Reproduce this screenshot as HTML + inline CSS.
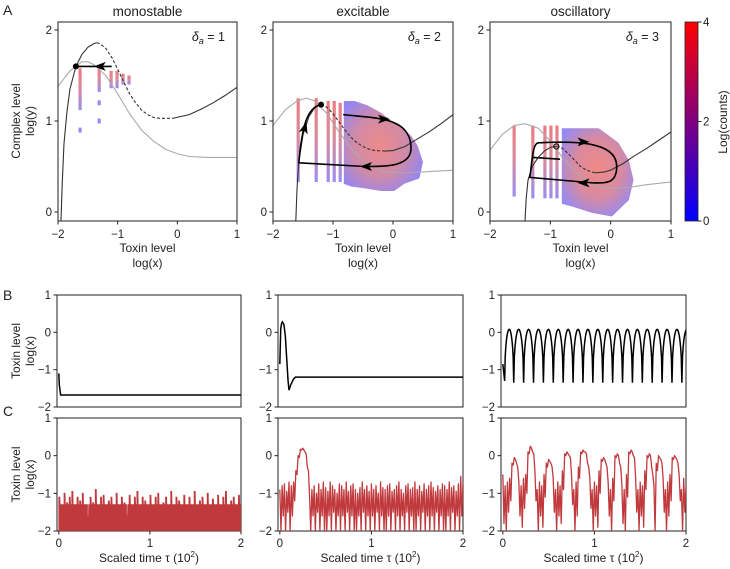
<!DOCTYPE html>
<html><head><meta charset="utf-8">
<style>
html,body{margin:0;padding:0;background:#fff;}
svg{display:block;font-family:"Liberation Sans",sans-serif;}
</style></head>
<body>
<svg id="fig" width="730" height="569" viewBox="0 0 730 569" xmlns="http://www.w3.org/2000/svg">
<defs>
<linearGradient id="cbar" x1="0" y1="1" x2="0" y2="0">
<stop offset="0" stop-color="#0000ff"/><stop offset="0.5" stop-color="#800080"/><stop offset="1" stop-color="#ff0000"/>
</linearGradient>
<linearGradient id="barg" x1="0" y1="0" x2="0" y2="1">
<stop offset="0" stop-color="#ee7a82"/><stop offset="0.45" stop-color="#d98a9a"/><stop offset="1" stop-color="#9b8cf0"/>
</linearGradient>
<radialGradient id="blob2" cx="0.45" cy="0.5" r="0.6">
<stop offset="0" stop-color="#ee8a8a"/><stop offset="0.55" stop-color="#d08aa8"/><stop offset="1" stop-color="#9486f2"/>
</radialGradient>
<radialGradient id="blob3" cx="0.5" cy="0.45" r="0.6">
<stop offset="0" stop-color="#f08a86"/><stop offset="0.55" stop-color="#d88aa0"/><stop offset="1" stop-color="#968af2"/>
</radialGradient>
<marker id="arr" viewBox="0 0 10 10" refX="5" refY="5" markerWidth="9" markerHeight="9" orient="auto">
<path d="M0,1 L10,5 L0,9 L3,5 Z" fill="#000"/>
</marker>
</defs>
</svg>
<script>
// ---------- data ----------
const aTitles = ["monostable","excitable","oscillatory"];
const aDelta = ["1","2","3"];
const aXTicks = [-2,-1,0,1];
const aYTicks = [0,1,2];
// nullclines (black)
const n1x = [-1.95,-1.93,-1.9,-1.85,-1.8,-1.7,-1.6,-1.5,-1.4,-1.35,-1.3,-1.2,-1.1,-1,-0.9,-0.8,-0.7,-0.6,-0.5,-0.4,-0.3,-0.2,-0.07,0.2,0.4,0.6,0.8,1];
const n1y = [-0.1,0.3,0.75,1.1,1.35,1.6,1.73,1.81,1.85,1.86,1.85,1.8,1.7,1.57,1.43,1.3,1.2,1.12,1.07,1.04,1.03,1.03,1.03,1.07,1.13,1.2,1.28,1.37];
const n2x = [-1.62,-1.6,-1.57,-1.5,-1.4,-1.3,-1.2,-1.1,-1,-0.9,-0.8,-0.7,-0.6,-0.5,-0.4,-0.3,-0.13,0,0.2,0.4,0.6,0.8,1];
const n2y = [-0.1,0.25,0.55,0.85,1.05,1.15,1.18,1.15,1.08,0.99,0.9,0.82,0.76,0.72,0.69,0.675,0.67,0.675,0.72,0.8,0.88,0.97,1.07];
const n3x = [-1.42,-1.4,-1.37,-1.3,-1.2,-1.1,-1,-0.9,-0.8,-0.7,-0.6,-0.5,-0.4,-0.26,-0.1,0,0.2,0.4,0.6,0.8,1];
const n3y = [-0.1,0.15,0.35,0.5,0.6,0.67,0.71,0.72,0.7,0.64,0.57,0.5,0.46,0.43,0.44,0.46,0.53,0.62,0.7,0.79,0.88];
const dashFrom = [-1.35,-1.2,-0.9];
const dashTo = [-0.07,-0.13,-0.26];
// gray nullclines
const g1x = [-2,-1.8,-1.6,-1.5,-1.4,-1.2,-1,-0.8,-0.6,-0.4,-0.2,0,0.2,0.5,1];
const g1y = [1.38,1.55,1.65,1.65,1.62,1.5,1.3,1.08,0.9,0.78,0.69,0.64,0.61,0.6,0.6];
const g2x = [-2,-1.8,-1.6,-1.45,-1.3,-1.1,-0.9,-0.7,-0.5,-0.3,-0.1,0.2,0.5,1];
const g2y = [0.95,1.12,1.22,1.25,1.22,1.08,0.88,0.7,0.56,0.48,0.44,0.43,0.44,0.46];
const g3x = [-2,-1.8,-1.6,-1.42,-1.2,-1,-0.8,-0.6,-0.4,-0.2,0,0.3,0.6,1];
const g3y = [0.68,0.85,0.95,0.97,0.92,0.78,0.6,0.45,0.34,0.28,0.26,0.27,0.3,0.33];
// histogram bars [x, top, bottom]
const bars1x = [-1.63,-1.31,-1.11,-1.01,-0.91,-0.81];
const bars1top = [1.58,1.58,1.55,1.55,1.52,1.5];
const bars1bot = [1.12,1.32,1.36,1.36,1.4,1.4];
const dots1x = [-1.31,-1.31,-1.63];
const dots1y = [1.2,1.0,0.9];
const bars2x = [-1.58,-1.28,-1.08,-0.98,-0.88];
const bars2top = [1.25,1.25,1.22,1.22,1.2];
const bars2bot = [0.33,0.33,0.33,0.33,0.33];
const bars3x = [-1.6,-1.29,-1.09,-0.99,-0.89];
const bars3top = [0.95,0.95,0.95,0.95,0.95];
const bars3bot = [0.17,0.15,0.15,0.15,0.15];
// heat blobs (outline)
const blob2x = [-0.82,-0.64,-0.42,-0.2,0.02,0.3,0.41,0.5,0.44,0.19,0.02,-0.2,-0.47,-0.7,-0.82];
const blob2y = [1.22,1.22,1.17,1.09,0.98,0.84,0.73,0.55,0.37,0.31,0.23,0.23,0.26,0.28,0.31];
const blob3x = [-0.81,-0.2,-0.09,0.13,0.3,0.38,0.3,0.02,-0.31,-0.64,-0.81];
const blob3y = [0.92,0.92,0.87,0.76,0.57,0.35,0.13,-0.05,-0.01,0.06,0.09];
// fixed points
const fpx = [-1.7,-1.2,-0.9];
const fpy = [1.6,1.18,0.72];
// B panels
const bXTicks = [0,1,2];
const bYTicks = [1,0,-1,-2];
const b1t = [0,0.005,0.02,0.04,2];
const b1y = [-1.1,-1.4,-1.68,-1.68,-1.68];
const b2t = [0,0.01,0.02,0.03,0.045,0.06,0.075,0.09,0.1,0.12,0.15,0.17,0.2,2];
const b2y = [-0.85,0.1,0.25,0.28,0.2,-0.1,-0.7,-1.3,-1.55,-1.4,-1.25,-1.2,-1.2,-1.2];
const b3PeakT = [0.065,0.173,0.281,0.389,0.497,0.605,0.713,0.821,0.929,1.037,1.145,1.253,1.361,1.469,1.577,1.685,1.793,1.901];
const b3PeakY = [0.08,0.08,0.08,0.08,0.08,0.08,0.08,0.08,0.08,0.08,0.08,0.08,0.08,0.08,0.08,0.08,0.08,0.08];
const b3TroughT = [0.02,0.119,0.227,0.335,0.443,0.551,0.659,0.767,0.875,0.983,1.091,1.199,1.307,1.415,1.523,1.631,1.739,1.847,1.955];
const b3TroughY = [-1.3,-1.35,-1.35,-1.35,-1.35,-1.35,-1.35,-1.35,-1.35,-1.35,-1.35,-1.35,-1.35,-1.35,-1.35,-1.35,-1.35,-1.35,-1.35];
// C panels
const c1upper = [-1.1,-1.3,-1.0,-1.25,-1.1,-0.95,-1.3,-1.1,-1.2,-1.0,-1.3,-1.6,-1.1,-1.25,-0.9,-1.3,-1.1,-1.05,-1.3,-1.2,-1.1,-1.3,-1.0,-1.3,-1.1,-1.25,-1.6,-1.05,-1.3,-1.1,-0.95,-1.3,-1.1,-1.2,-1.3,-1.05,-1.3,-1.1,-1.0,-1.3,-1.25,-1.1,-1.3,-0.95,-1.3,-1.1,-1.2,-1.3,-1.05,-1.3,-1.1,-1.3,-0.95,-1.3,-1.2,-1.1,-1.3,-1.0,-1.3,-1.15,-1.3,-1.05,-1.3,-1.1,-0.95,-1.3,-1.2,-1.1,-1.3,-1.05];
const c2upper = [-0.9,-0.8,-0.75,-0.95,-0.7,-0.8,-0.7,-0.4,0.0,0.17,0.2,0.1,-0.3,-1.1,-0.9,-0.8,-1.0,-0.75,-0.9,-0.7,-0.85,-0.95,-0.7,-0.8,-0.9,-1.0,-0.75,-0.8,-0.9,-0.7,-0.95,-0.8,-0.75,-0.9,-1.0,-0.85,-0.7,-0.9,-0.8,-0.95,-0.75,-0.9,-0.8,-1.0,-0.7,-0.85,-0.9,-0.8,-0.75,-0.95,-0.9,-0.8,-0.7,-0.9,-1.0,-0.8,-0.75,-0.9,-0.85,-0.7,-0.9,-0.8,-0.95,-0.75,-0.9,-0.8,-0.7,-0.85,-0.95,-0.8,-0.9,-0.75,-0.8,-0.9,-0.7,-0.85,-0.8,-0.95,-0.75,-0.55,-0.7];
const c2lower = [-2,-1.6,-2,-1.5,-2,-1.6,-1.2,-0.5,-0.05,0.15,0.15,0.05,-0.4,-2,-1.6,-2,-1.5,-2,-1.6,-2,-2,-1.6,-2,-1.5,-2,-1.6,-2,-1.6,-2,-1.5,-2,-1.6,-2,-2,-1.6,-2,-1.5,-2,-1.6,-2,-1.6,-2,-1.5,-2,-1.6,-2,-2,-1.6,-2,-1.5,-2,-1.6,-2,-1.6,-2,-1.5,-2,-1.6,-2,-2,-1.6,-2,-1.5,-2,-1.6,-2,-1.6,-2,-1.5,-2,-1.6,-2,-2,-1.6,-2,-1.5,-2,-1.6,-2,-1.6,-1.5];
const c3upper = [-0.5,-0.8,-0.7,-0.6,-0.2,-0.05,-0.2,-0.7,-0.8,-0.6,-0.5,0.1,0.25,0.1,-0.4,-0.9,-0.7,-0.8,-0.5,-0.2,-0.1,-0.2,-0.6,-0.9,-0.7,-0.8,-0.4,0.05,0.1,0.0,-0.5,-0.9,-0.7,-0.3,0.1,0.15,0.1,-0.2,-0.6,-0.9,-0.7,-0.8,-0.4,-0.1,-0.05,-0.2,-0.7,-0.9,-0.6,0.0,0.05,-0.2,-0.8,-0.9,-0.5,0.1,0.15,0.0,-0.6,-0.9,-0.7,-0.8,-0.4,0.0,0.05,-0.3,-0.8,-0.2,0.0,-0.1,-0.6,-0.9,-0.7,-0.5,-0.05,0.0,-0.1,-0.5,-0.9,-0.6,-0.8];
const c3lower = [-1.8,-2,-1.5,-1.2,-0.25,-0.1,-0.3,-1.6,-1.9,-1.4,-1.0,0.05,0.2,0.05,-1.2,-2,-1.6,-1.9,-1.1,-0.3,-0.15,-0.3,-1.5,-2,-1.6,-1.8,-0.9,0.0,0.05,-0.05,-1.3,-2,-1.6,-0.6,0.05,0.1,0.05,-0.3,-1.4,-2,-1.6,-1.9,-1.0,-0.15,-0.1,-0.3,-1.6,-2,-1.2,-0.05,0.0,-0.3,-1.8,-2,-1.1,0.05,0.1,-0.05,-1.5,-2,-1.6,-1.9,-0.9,-0.05,0.0,-0.5,-2,-0.4,-0.05,-0.2,-1.5,-2,-1.6,-1.2,-0.1,-0.05,-0.2,-1.2,-2,-1.5,-1.7];

// ---------- layout ----------
const NS = "http://www.w3.org/2000/svg";
const svg = document.getElementById("fig");
const aCols = [[58,237],[273,453],[490,671]];
const bCols = [[57,241],[278,463],[501,686]];
const aY = [22,221], aDom=[-0.099,2.088];
const bY = [295,407], cY = [418,531];
function mk(tag, attrs, parent){ const e=document.createElementNS(NS,tag); for(const k in attrs) e.setAttribute(k,attrs[k]); (parent||svg).appendChild(e); return e; }
function scale(d0,d1,r0,r1){ return v => r0+(v-d0)/(d1-d0)*(r1-r0); }
function txt(x,y,s,anchor,size,parent){ const t=mk("text",{x:x,y:y,"text-anchor":anchor||"middle","font-size":size||11,fill:"#222"},parent); t.textContent=s; return t; }
function fmt(v){ return v<0 ? "\u2212"+Math.abs(v) : String(v); }
function path(xs,ys,sx,sy){ return xs.map((v,i)=>(i?"L":"M")+sx(v).toFixed(2)+","+sy(ys[i]).toFixed(2)).join(" "); }

// panel labels
[["A",3,15],["B",3,300],["C",3,416]].forEach(p=>{ const t=txt(p[1],p[2],p[0],"start",14);   });

// ---------- A panels ----------
const nx=[n1x,n2x,n3x], ny=[n1y,n2y,n3y], gx=[g1x,g2x,g3x], gy=[g1y,g2y,g3y];
const barsX=[bars1x,bars2x,bars3x], barsT=[bars1top,bars2top,bars3top], barsB=[bars1bot,bars2bot,bars3bot];
const blobsX=[null,blob2x,blob3x], blobsY=[null,blob2y,blob3y];
for(let p=0;p<3;p++){
  const [x0,x1]=aCols[p];
  const sx=scale(-2,1,x0,x1), sy=scale(aDom[0],aDom[1],aY[1],aY[0]);
  const g=mk("g",{});
  
  
  const cid="clipA"+p;
  const cp=mk("clipPath",{id:cid},g); mk("rect",{x:x0,y:aY[0],width:x1-x0,height:aY[1]-aY[0]},cp);
  const inner=mk("g",{"clip-path":"url(#"+cid+")"},g);
  // blob
  if(blobsX[p]){
    const bl=mk("path",{d:path(blobsX[p],blobsY[p],sx,sy)+" Z",fill:"url(#blob"+(p+1)+")",stroke:"none"},inner);
    
    
  }
  // bars
  barsX[p].forEach((bx,i)=>{
    const r=mk("rect",{x:sx(bx)-1.6,y:sy(barsT[p][i]),width:3.2,height:sy(barsB[p][i])-sy(barsT[p][i]),fill:"url(#barg)"},inner);
    
    
  });
  if(p===0){
    dots1x.forEach((dx,i)=>{
      const r=mk("rect",{x:sx(dx)-1.6,y:sy(dots1y[i])-2.5,width:3.2,height:5,fill:"#9a8cef"},inner);
      
      
    });
  }
  // gray nullcline
  const gp=mk("path",{d:path(gx[p],gy[p],sx,sy),fill:"none",stroke:"#aaa","stroke-width":1.1},inner);
  
  
  // black nullcline split solid/dashed
  const xs=nx[p], ys=ny[p];
  const segA=[[],[]], segD=[[],[]], segC=[[],[]];
  xs.forEach((v,i)=>{
    if(v<=dashFrom[p]){segA[0].push(v);segA[1].push(ys[i]);}
    if(v>=dashFrom[p]&&v<=dashTo[p]){segD[0].push(v);segD[1].push(ys[i]);}
    if(v>=dashTo[p]){segC[0].push(v);segC[1].push(ys[i]);}
  });
  [[segA,""],[segD,"3,2"],[segC,""]].forEach(s=>{
    const e=mk("path",{d:path(s[0][0],s[0][1],sx,sy),fill:"none",stroke:"#333","stroke-width":1.1,"stroke-dasharray":s[1]||"none"},inner);
    
    
  });
  // trajectories
  let trj=[];
  if(p===0){
    trj.push("M"+sx(-1.1)+","+sy(1.6)+" L"+sx(-1.38)+","+sy(1.6)+" L"+sx(-1.7)+","+sy(1.6));
  } else if(p===1){
    trj.push("M"+sx(-1.57)+","+sy(0.54)+" C"+sx(-1.52)+","+sy(0.9)+" "+sx(-1.45)+","+sy(1.15)+" "+sx(-1.2)+","+sy(1.18));
    trj.push("M"+sx(-0.83)+","+sy(1.07)+" C"+sx(-0.3)+","+sy(1.03)+" "+sx(0.3)+","+sy(1.05)+" "+sx(0.3)+","+sy(0.7)+" C"+sx(0.3)+","+sy(0.5)+" "+sx(-0.1)+","+sy(0.5)+" "+sx(-0.47)+","+sy(0.5)+" L"+sx(-1.57)+","+sy(0.54));
  } else {
    trj.push("M"+sx(-1.2)+","+sy(0.76)+" C"+sx(-0.6)+","+sy(0.78)+" "+sx(0.1)+","+sy(0.78)+" "+sx(0.1)+","+sy(0.5)+" C"+sx(0.1)+","+sy(0.3)+" "+sx(-0.1)+","+sy(0.32)+" "+sx(-0.3)+","+sy(0.32)+" L"+sx(-1.34)+","+sy(0.38)+" C"+sx(-1.3)+","+sy(0.55)+" "+sx(-1.3)+","+sy(0.75)+" "+sx(-1.2)+","+sy(0.76));
    trj.push("M"+sx(-1.29)+","+sy(0.6)+" L"+sx(-0.84)+","+sy(0.58));
  }
  trj.forEach(d=>{
    const e=mk("path",{d:d,fill:"none",stroke:"#000","stroke-width":1.6},inner);
    
    
  });
  // arrowheads
  const arrows = p===0?[[-1.3,1.6,180]]:p===1?[[-1.47,0.93,-75],[-0.15,1.02,0],[-0.45,0.5,180]]:[[-0.45,0.77,0],[-0.45,0.32,180]];
  arrows.forEach(a=>{
    const e=mk("path",{d:"M6,0 L-6,-4.5 L-3,0 L-6,4.5 Z",fill:"#000",transform:"translate("+sx(a[0])+","+sy(a[1])+") rotate("+a[2]+")"},inner);
    
    
  });
  // fixed point
  const fp=mk("circle",{cx:sx(fpx[p]),cy:sy(fpy[p]),r:p===2?2.6:3,fill:p===2?"none":"#000",stroke:"#000","stroke-width":p===2?1:0},inner);
  
  
  // frame
  const fr=mk("rect",{x:x0,y:aY[0],width:x1-x0,height:aY[1]-aY[0],fill:"none",stroke:"#222","stroke-width":1},g);
  
  
  aXTicks.forEach(v=>{ mk("line",{x1:sx(v),x2:sx(v),y1:aY[1],y2:aY[1]+3.5,stroke:"#222"},g); const t=txt(sx(v),aY[1]+17,fmt(v),"middle",11.5,g);   });
  aYTicks.forEach(v=>{ mk("line",{x1:x0-3.5,x2:x0,y1:sy(v),y2:sy(v),stroke:"#222"},g); const t=txt(x0-6,sy(v)+4,fmt(v),"end",11.5,g);   });
  const t1=txt((x0+x1)/2,16,aTitles[p],"middle",13.5,g);  
  const xl=txt((x0+x1)/2,252,"Toxin level","middle",12,g);  
  txt((x0+x1)/2,267,"log(x)","middle",12,g);
  const dl=mk("text",{x:x1-12,y:41,"text-anchor":"end","font-size":12.5,fill:"#222"},g);
   
  dl.innerHTML='<tspan font-style="italic">δ</tspan><tspan font-style="italic" font-size="9" dy="3">a</tspan><tspan dy="-3"> = '+aDelta[p]+'</tspan>';
}
{ const t=mk("text",{x:0,y:0,"text-anchor":"middle","font-size":12,fill:"#222",transform:"translate(20,121) rotate(-90)"}); t.textContent="Complex level";  
  const t2=mk("text",{x:0,y:0,"text-anchor":"middle","font-size":12,fill:"#222",transform:"translate(34,121) rotate(-90)"}); t2.textContent="log(y)"; }
// colorbar
{ const cb=mk("rect",{x:685,y:22,width:13,height:199,fill:"url(#cbar)",stroke:"#222","stroke-width":0.8});
   
  const cbTicks=[0,2,4]; const cs=scale(0,4,221,22);
  cbTicks.forEach(v=>{ mk("line",{x1:698,x2:701.5,y1:cs(v),y2:cs(v),stroke:"#222"}); const t=txt(703,cs(v)+4,String(v),"start",11.5);   });
  const t=mk("text",{x:0,y:0,"text-anchor":"middle","font-size":12,fill:"#222",transform:"translate(727,122) rotate(-90)"}); t.textContent="Log(counts)";   }

// ---------- B & C ----------
function tsAxes(col,yr,row,showX){
  const [x0,x1]=bCols[col];
  const sx=scale(-0.02*(2/ (2)),2,x0,x1), sy=scale(-2,1,yr[1],yr[0]);
  const g=mk("g",{});
  
  
  const fr=mk("rect",{x:x0,y:yr[0],width:x1-x0,height:yr[1]-yr[0],fill:"none",stroke:"#222","stroke-width":1},g);
   
  bYTicks.forEach(v=>{ mk("line",{x1:x0-3.5,x2:x0,y1:sy(v),y2:sy(v),stroke:"#222"},g); const t=txt(x0-6,sy(v)+4,fmt(v),"end",11.5,g);   });
  if(showX){ bXTicks.forEach(v=>{ mk("line",{x1:sx(v),x2:sx(v),y1:yr[1],y2:yr[1]+3.5,stroke:"#222"},g); const t=txt(sx(v),yr[1]+16,String(v),"middle",11.5,g);   });
    const xl=mk("text",{x:(x0+x1)/2,y:yr[1]+31,"text-anchor":"middle","font-size":12,fill:"#222"},g);
    xl.innerHTML='Scaled time τ (10<tspan font-size="8" dy="-5">2</tspan><tspan dy="5">)</tspan>';
      }
  const cid="clip"+row+col; const cp=mk("clipPath",{id:cid},g); mk("rect",{x:x0,y:yr[0],width:x1-x0,height:yr[1]-yr[0]},cp);
  const inner=mk("g",{"clip-path":"url(#"+cid+")"},g);
  return {sx,sy,inner};
}
[[bY,"B"],[cY,"C"]].forEach(r=>{
  const t=mk("text",{x:0,y:0,"text-anchor":"middle","font-size":12,fill:"#222",transform:"translate(20,"+((r[0][0]+r[0][1])/2)+") rotate(-90)"}); t.textContent="Toxin level";  
  const t2=mk("text",{x:0,y:0,"text-anchor":"middle","font-size":12,fill:"#222",transform:"translate(34,"+((r[0][0]+r[0][1])/2)+") rotate(-90)"}); t2.textContent="log(x)";
});
// B1, B2
[[b1t,b1y],[b2t,b2y]].forEach((d,c)=>{
  const A=tsAxes(c,bY,"b",false);
  const e=mk("path",{d:path(d[0],d[1],A.sx,A.sy),fill:"none",stroke:"#000","stroke-width":1.5},A.inner);
   
});
// B3
{ const A=tsAxes(2,bY,"b",false);
  let d="M"+A.sx(0)+","+A.sy(-0.85)+" L"+A.sx(b3TroughT[0])+","+A.sy(b3TroughY[0]);
  for(let k=0;k<b3TroughT.length;k++){
    const ta=b3TroughT[k], tb = k+1<b3TroughT.length ? b3TroughT[k+1] : ta+0.108;
    const pk = k<b3PeakY.length ? b3PeakY[k] : 0.08;
    const ya=b3TroughY[k], yb = k+1<b3TroughY.length ? b3TroughY[k+1] : b3TroughY[k];
    for(let s=1;s<=16;s++){ const f=s/16, u=2*f-1; const base=ya+(yb-ya)*f; const y=base+(pk-base)*Math.sqrt(Math.max(0,1-u*u)); d+=" L"+A.sx(ta+(tb-ta)*f).toFixed(2)+","+A.sy(y).toFixed(2); }
  }
  const e=mk("path",{d:d,fill:"none",stroke:"#000","stroke-width":1.5},A.inner);
   
}
// C1 filled
{ const A=tsAxes(0,cY,"c",true);
  const n=c1upper.length; let d="M"+A.sx(0)+","+A.sy(-2);
  c1upper.forEach((v,i)=>{ const t0=i*2/n, t1=(i+1)*2/n; d+=" L"+A.sx(t0).toFixed(2)+","+A.sy(v).toFixed(2)+" L"+A.sx(t0+0.4*(t1-t0)).toFixed(2)+","+A.sy(v).toFixed(2)+" L"+A.sx(t0+0.5*(t1-t0)).toFixed(2)+","+A.sy(-1.3).toFixed(2)+" L"+A.sx(t1).toFixed(2)+","+A.sy(-1.3).toFixed(2); });
  d+=" L"+A.sx(2)+","+A.sy(-2)+" Z";
  const e=mk("path",{d:d,fill:"#c0393c",stroke:"#c0393c","stroke-width":0.8},A.inner);
   
}
// C2, C3 zigzag
[[c2upper,c2lower],[c3upper,c3lower]].forEach((d,ci)=>{
  const A=tsAxes(ci+1,cY,"c",true);
  const n=d[0].length-1; let p="";
  d[0].forEach((v,i)=>{ const t=i*2/n; p+=(i?" L":"M")+A.sx(t).toFixed(2)+","+A.sy(v).toFixed(2)+" L"+A.sx(t+1/n).toFixed(2)+","+A.sy(d[1][i]).toFixed(2); });
  const e=mk("path",{d:p,fill:"none",stroke:"#c0393c","stroke-width":1.3,"stroke-linejoin":"round"},A.inner);
   
});
</script>
</body></html>
